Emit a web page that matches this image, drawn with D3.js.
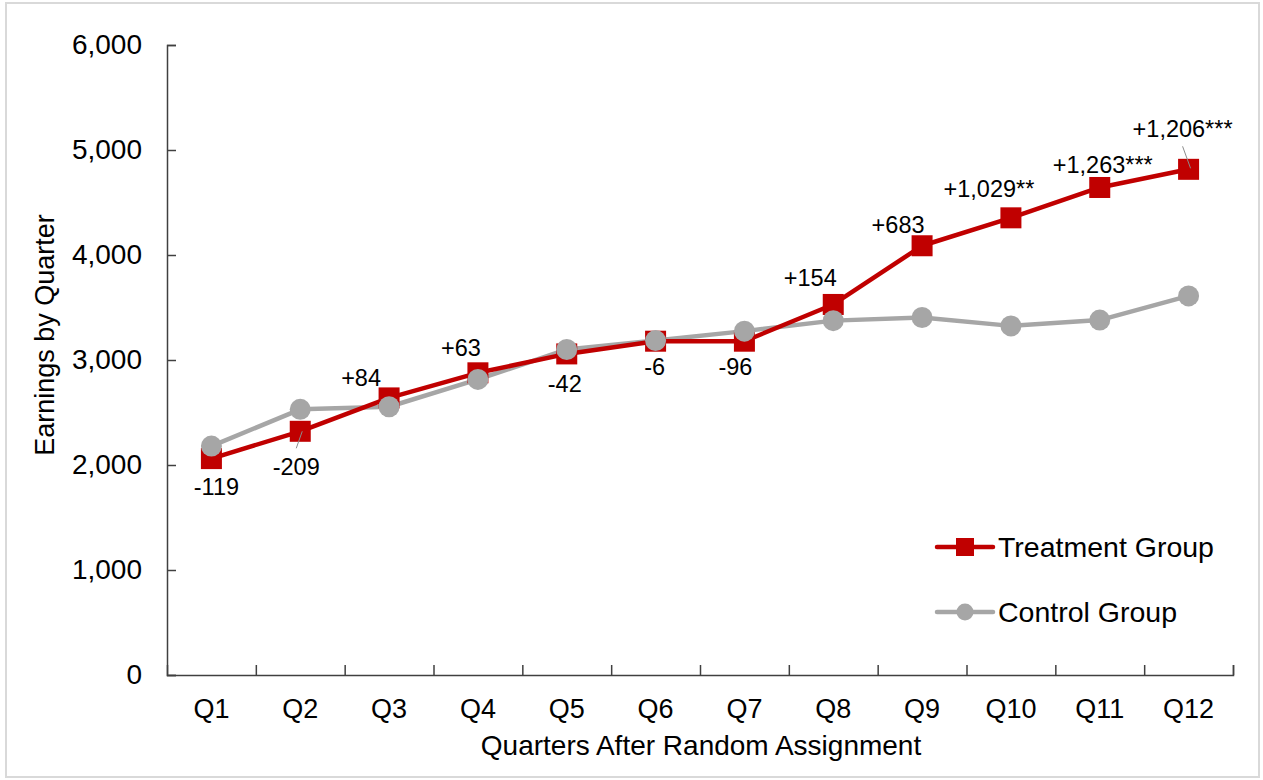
<!DOCTYPE html>
<html>
<head>
<meta charset="utf-8">
<script src="https://cdn.jsdelivr.net/npm/d3@7"></script>
<style>
  html, body { margin: 0; padding: 0; background: #fff; }
  svg { display: block; font-family: "Liberation Sans", Arial, sans-serif; }
</style>
</head>
<body>
<svg id="chart" width="1263" height="780"></svg>
<script>
// Quarterly earnings, treatment vs. control
const quarters = ["Q1","Q2","Q3","Q4","Q5","Q6","Q7","Q8","Q9","Q10","Q11","Q12"];
const treatment = [2061, 2321, 2639, 2878, 3058, 3179, 3179, 3529, 4088, 4354, 4643, 4816];
const control   = [2180, 2530, 2555, 2815, 3100, 3185, 3275, 3375, 3405, 3325, 3380, 3610];
// Estimated impact (treatment minus control) and significance stars
const impact = [-119, -209, 84, 63, -42, -6, -96, 154, 683, 1029, 1263, 1206];
const stars  = ["", "", "", "", "", "", "", "", "", "**", "***", "***"];
const yTicks = [0, 1000, 2000, 3000, 4000, 5000, 6000];
const seriesNames = ["Treatment Group", "Control Group"];

// Label placement relative to each treatment marker: [dx, dy(baseline), leader line?]
const labelPlacement = [
  [5, 36, false], [-4, 44, true], [-28, -12, false], [-17, -17, false],
  [-2, 38, false], [-1, 34, false], [-9, 34, false], [-23, -18, false],
  [-24, -13, false], [-22, -21, false], [3, -14, false], [-6, -32, true]
];

const RED = "#C00000", GREY = "#A6A6A6", AXIS = "#404040";
const svg = d3.select("#chart");

// frame around the picture
svg.append("rect").attr("x", 6).attr("y", 3).attr("width", 1253).attr("height", 774)
  .attr("fill", "none").attr("stroke", "#d9d9d9").attr("stroke-width", 2);

const plot = { left: 167, right: 1233, top: 45, bottom: 675 };

const x = d3.scaleBand().domain(quarters).range([plot.left, plot.right]);
const cx = q => x(q) + x.bandwidth() / 2;
const y = d3.scaleLinear().domain([0, 6000]).range([plot.bottom, plot.top]);

// Y axis with inside ticks
const yAxis = d3.axisLeft(y).tickValues(yTicks).tickFormat(d3.format(","))
  .tickSize(-9).tickPadding(25);
const gy = svg.append("g").attr("transform", `translate(${plot.left},0)`).call(yAxis);
gy.select(".domain").attr("stroke", AXIS).attr("stroke-width", 1.5);
gy.selectAll(".tick line").attr("stroke", AXIS).attr("stroke-width", 1.5);
gy.selectAll(".tick text").attr("font-size", 28).attr("fill", "#000")
  .attr("font-family", "Liberation Sans, Arial, sans-serif");

// X axis: boundary ticks between categories
const xEdge = d3.scaleLinear().domain([0, quarters.length]).range([plot.left, plot.right]);
const xTickAxis = d3.axisBottom(xEdge).tickValues(d3.range(1, quarters.length + 1))
  .tickSize(-10).tickFormat("");
const gxt = svg.append("g").attr("transform", `translate(0,${plot.bottom})`).call(xTickAxis);
gxt.select(".domain").attr("stroke", AXIS).attr("stroke-width", 1.5);
gxt.selectAll(".tick line").attr("stroke", AXIS).attr("stroke-width", 1.5);

// X category labels
const xAxis = d3.axisBottom(x).tickSize(0).tickPadding(24);
const gx = svg.append("g").attr("transform", `translate(0,${plot.bottom})`).call(xAxis);
gx.select(".domain").remove();
gx.selectAll(".tick text").attr("font-size", 27).attr("fill", "#000")
  .attr("font-family", "Liberation Sans, Arial, sans-serif");

// Axis titles
svg.append("text").attr("x", 701).attr("y", 755).attr("text-anchor", "middle")
  .attr("font-size", 28).attr("fill", "#000").text("Quarters After Random Assignment");
svg.append("text").attr("transform", "translate(54,335) rotate(-90)")
  .attr("text-anchor", "middle").attr("font-size", 27).attr("fill", "#000")
  .text("Earnings by Quarter");

const line = d3.line().x((d, i) => cx(quarters[i])).y(d => y(d));

// Control series
svg.append("path").datum(control).attr("d", line).attr("fill", "none")
  .attr("stroke", GREY).attr("stroke-width", 4.5).attr("stroke-linejoin", "round");
// Treatment series
svg.append("path").datum(treatment).attr("d", line).attr("fill", "none")
  .attr("stroke", RED).attr("stroke-width", 4.5).attr("stroke-linejoin", "round");

const SQ = 21;
svg.append("g").selectAll("rect").data(treatment).join("rect")
  .attr("x", (d, i) => cx(quarters[i]) - SQ / 2).attr("y", d => y(d) - SQ / 2)
  .attr("width", SQ).attr("height", SQ).attr("fill", RED);
svg.append("g").selectAll("circle").data(control).join("circle")
  .attr("cx", (d, i) => cx(quarters[i])).attr("cy", d => y(d))
  .attr("r", 10.5).attr("fill", GREY);

// Impact labels
const fmt = d3.format(",");
const labelText = (v, i) => (v >= 0 ? "+" : "-") + fmt(Math.abs(v)) + stars[i];
const labels = svg.append("g");
impact.forEach((v, i) => {
  const px = cx(quarters[i]), py = y(treatment[i]);
  const [dx, dy, leader] = labelPlacement[i];
  labels.append("text").attr("x", px + dx).attr("y", py + dy)
    .attr("text-anchor", "middle").attr("font-size", 23.5).attr("fill", "#000")
    .text(labelText(v, i));
  if (leader) {
    const sy = dy > 0 ? py + dy - 27 : py + dy + 9;
    labels.append("line").attr("x1", px + dx).attr("y1", sy)
      .attr("x2", px + 2).attr("y2", py + (dy > 0 ? 0 : -1))
      .attr("stroke", "#8c8c8c").attr("stroke-width", 1);
  }
});

// Legend
const legend = svg.append("g");
const legendRows = [
  { name: seriesNames[0], color: RED, y: 547, marker: "square" },
  { name: seriesNames[1], color: GREY, y: 612, marker: "circle" }
];
legendRows.forEach(r => {
  legend.append("line").attr("x1", 937).attr("x2", 993).attr("y1", r.y).attr("y2", r.y)
    .attr("stroke", r.color).attr("stroke-width", 4.5).attr("stroke-linecap", "round");
  if (r.marker === "square") {
    legend.append("rect").attr("x", 956).attr("y", r.y - 9).attr("width", 18).attr("height", 18)
      .attr("fill", r.color);
  } else {
    legend.append("circle").attr("cx", 965).attr("cy", r.y).attr("r", 8.5).attr("fill", r.color);
  }
  legend.append("text").attr("x", 998).attr("y", r.y + 9.5).attr("font-size", 28.5)
    .attr("fill", "#000").text(r.name);
});
</script>
</body>
</html>
